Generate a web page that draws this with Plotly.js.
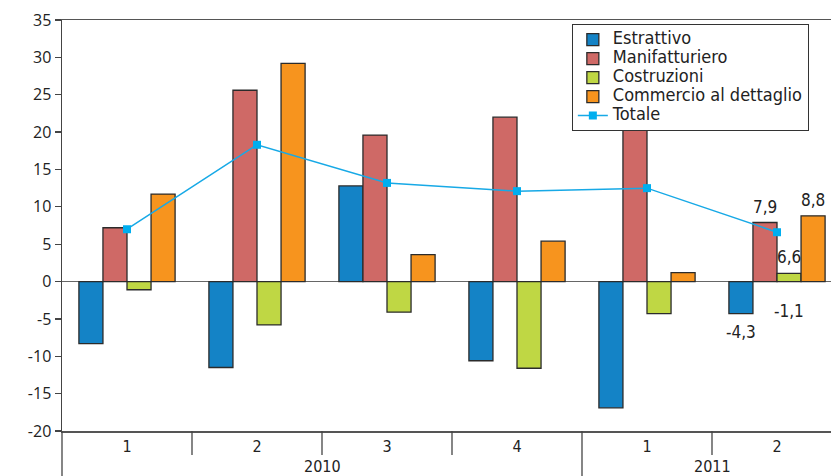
<!DOCTYPE html>
<html>
<head>
<meta charset="utf-8">
<script src="https://cdn.plot.ly/plotly-3.0.1.min.js"></script>
<style>html,body{margin:0;padding:0;background:#fff;}#chart{width:831px;height:476px;}</style>
</head>
<body>
<div id="chart"></div>
<script>
// Data
const quarters = ["1", "2", "3", "4", "1", "2"];
const years = ["2010", "2010", "2010", "2010", "2011", "2011"];
const seriesNames = ["Estrattivo", "Manifatturiero", "Costruzioni", "Commercio al dettaglio", "Totale"];
const estrattivo = [-8.3, -11.5, 12.8, -10.6, -16.9, -4.3];
const manifatturiero = [7.2, 25.6, 19.6, 22.0, 20.4, 7.9];
const costruzioni = [-1.1, -5.8, -4.1, -11.6, -4.3, 1.1];
const commercio = [11.7, 29.2, 3.6, 5.4, 1.2, 8.8];
const totale = [7.0, 18.3, 13.2, 12.1, 12.5, 6.6];
const yTicks = [-20, -15, -10, -5, 0, 5, 10, 15, 20, 25, 30, 35];
// labels shown on the last group: [series index, text, value, side]
const lastLabels = [
  [0, "-4,3", -4.3, "below"],
  [1, "7,9", 7.9, "above"],
  [2, "6,6", 1.1, "above"],
  [2, "-1,1", -1.1, "below"],
  [3, "8,8", 8.8, "above"]
];

const xs = quarters.map((q, i) => i);
const FONT = "DejaVu Sans Condensed, Liberation Sans Narrow, sans-serif";
const BARGAP = 0.26;
const ML = 62, MR = 0, MT = 20, MB = 45, W = 831, H = 476;
const plotH = H - MT - MB;
const outline = { color: "#2b2b2b", width: 1.3 };
const legName = n => '<span style="font-size:18px">' + n + '</span>';

const barColors = ["#1483C6", "#CF6966", "#BFD744", "#F7941E"];
const traces = [estrattivo, manifatturiero, costruzioni, commercio].map((vals, k) => ({
  type: "bar", name: legName(seriesNames[k]), x: xs, y: vals,
  marker: { color: barColors[k], line: outline },
  hoverinfo: "skip"
}));
traces.push({
  type: "scatter", mode: "lines+markers", name: legName(seriesNames[4]), x: xs, y: totale,
  line: { color: "#17A9E6", width: 1.5 },
  marker: { symbol: "square", size: 8, color: "#00AEEF" },
  hoverinfo: "skip"
});

// dividers below the x axis
const shapes = [];
const lineStyle = { color: "#444", width: 1.3 };
for (let i = 0; i < xs.length - 1; i++) {
  const yearChange = years[i] !== years[i + 1];
  shapes.push({
    type: "line", xref: "x", yref: "paper",
    x0: i + 0.5, x1: i + 0.5,
    y0: 0, y1: yearChange ? -MB / plotH : -24 / plotH,
    line: lineStyle
  });
}
shapes.push({
  type: "line", xref: "paper", yref: "paper",
  x0: 0, x1: 0, y0: 0, y1: -MB / plotH, line: lineStyle
});

// year labels
const annotations = [];
const yearGroups = {};
years.forEach((y, i) => { (yearGroups[y] = yearGroups[y] || []).push(i); });
Object.keys(yearGroups).forEach(y => {
  const idx = yearGroups[y];
  const mid = (idx[0] + idx[idx.length - 1]) / 2;
  annotations.push({
    xref: "x", yref: "paper", x: mid, y: -36 / plotH,
    text: y, showarrow: false, yanchor: "middle",
    font: { family: FONT, size: 16, color: "#222" }
  });
});

// value labels on last group
const barW = (1 - BARGAP) / 4;
const lastX = xs[xs.length - 1];
lastLabels.forEach(([si, txt, val, side]) => {
  annotations.push({
    xref: "x", yref: "y", x: lastX + (si - 1.5) * barW, y: val,
    text: txt, showarrow: false,
    yanchor: side === "above" ? "bottom" : "top",
    yshift: side === "above" ? 4 : (si === 2 ? -9 : -6),
    font: { family: FONT, size: 17, color: "#222" }
  });
});

const layout = {
  width: W, height: H,
  margin: { l: ML, r: MR, t: MT, b: MB, pad: 0 },
  paper_bgcolor: "#fff", plot_bgcolor: "#fff",
  barmode: "group", bargap: BARGAP, bargroupgap: 0,
  showlegend: true,
  legend: {
    x: 0.663, y: 0.99, xanchor: "left", yanchor: "top",
    bgcolor: "#fff", bordercolor: "#333", borderwidth: 1,
    font: { family: FONT, size: 12, color: "#222" },
    tracegroupgap: 0, traceorder: "normal"
  },
  xaxis: {
    type: "linear", range: [-0.5, -0.5 + (W - ML - MR) / 130],
    tickvals: xs, ticktext: quarters, ticks: "",
    showgrid: false, zeroline: false,
    showline: true, linecolor: "#555", linewidth: 1.5, mirror: true,
    tickfont: { family: FONT, size: 16, color: "#222" },
    fixedrange: true
  },
  yaxis: {
    range: [-20, 35], tickvals: yTicks, ticktext: yTicks.map(String),
    ticks: "outside", ticklen: 6, tickcolor: "#444", tickwidth: 1.3,
    showgrid: false, zeroline: true, zerolinecolor: "#666", zerolinewidth: 1.5,
    showline: true, linecolor: "#444", linewidth: 1.5,
    tickfont: { family: "Open Sans, sans-serif", size: 16, color: "#222" },
    fixedrange: true
  },
  shapes: shapes,
  annotations: annotations
};

Plotly.newPlot("chart", traces, layout, { displayModeBar: false, staticPlot: true });
</script>
</body>
</html>
